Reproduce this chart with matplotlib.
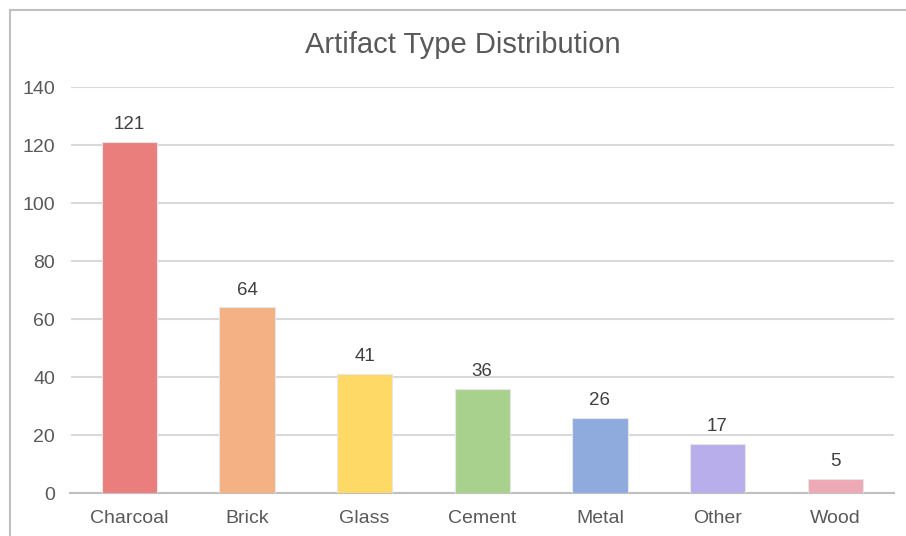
import matplotlib
matplotlib.use("Agg")
import matplotlib.pyplot as plt
from matplotlib.patches import Rectangle

categories = ["Charcoal", "Brick", "Glass", "Cement", "Metal", "Other", "Wood"]
counts = [121, 64, 41, 36, 26, 17, 5]
bar_colors = ["#E97E7D", "#F4B183", "#FFD966", "#A9D18E", "#8FAADC", "#B8AEEC", "#EEA9B6"]
yticks = [0, 20, 40, 60, 80, 100, 120, 140]

plt.rcParams["font.family"] = ["Liberation Sans", "DejaVu Sans"]
text_gray = "#595959"

fig = plt.figure(figsize=(9.06, 5.36), dpi=100)
fig.patch.set_facecolor("white")

# chart-area border (only left and top edges fall inside the image)
fig.patches.append(Rectangle((9.5 / 906, -0.1), 2.0, (536 - 10) / 536 + 0.1,
                             transform=fig.transFigure, fill=False,
                             edgecolor="#BFBFBF", linewidth=1.5, zorder=0))

ax = fig.add_axes([70.5 / 906, (536 - 493) / 536, (894 - 70.5) / 906, (493 - 87) / 536])

x = range(len(categories))
bars = ax.bar(x, counts, width=0.47, color=bar_colors, edgecolor="#E6E6E6",
              linewidth=0.8, zorder=3)

for rect, v in zip(bars, counts):
    ax.text(rect.get_x() + rect.get_width() / 2, v + 3, str(v),
            ha="center", va="bottom", fontsize=13.5, color="#404040")

ax.set_xlim(-0.5, len(categories) - 0.5)
ax.set_ylim(0, 140)
ax.set_yticks(yticks)
ax.set_xticks(list(x))
ax.set_xticklabels(categories)
ax.tick_params(axis="both", length=0, labelsize=14, colors=text_gray)
ax.tick_params(axis="y", pad=11)
ax.tick_params(axis="x", pad=12)

ax.grid(axis="y", color="#D9D9D9", linewidth=1.5, zorder=0)
ax.set_axisbelow(True)
for side in ["top", "right", "left"]:
    ax.spines[side].set_visible(False)
ax.spines["bottom"].set_color("#BFBFBF")
ax.spines["bottom"].set_linewidth(1.5)

fig.text(463 / 906, (536 - 45) / 536, "Artifact Type Distribution",
         ha="center", va="center", fontsize=21, color=text_gray)

fig.savefig("out.png", dpi=100, facecolor="white")
